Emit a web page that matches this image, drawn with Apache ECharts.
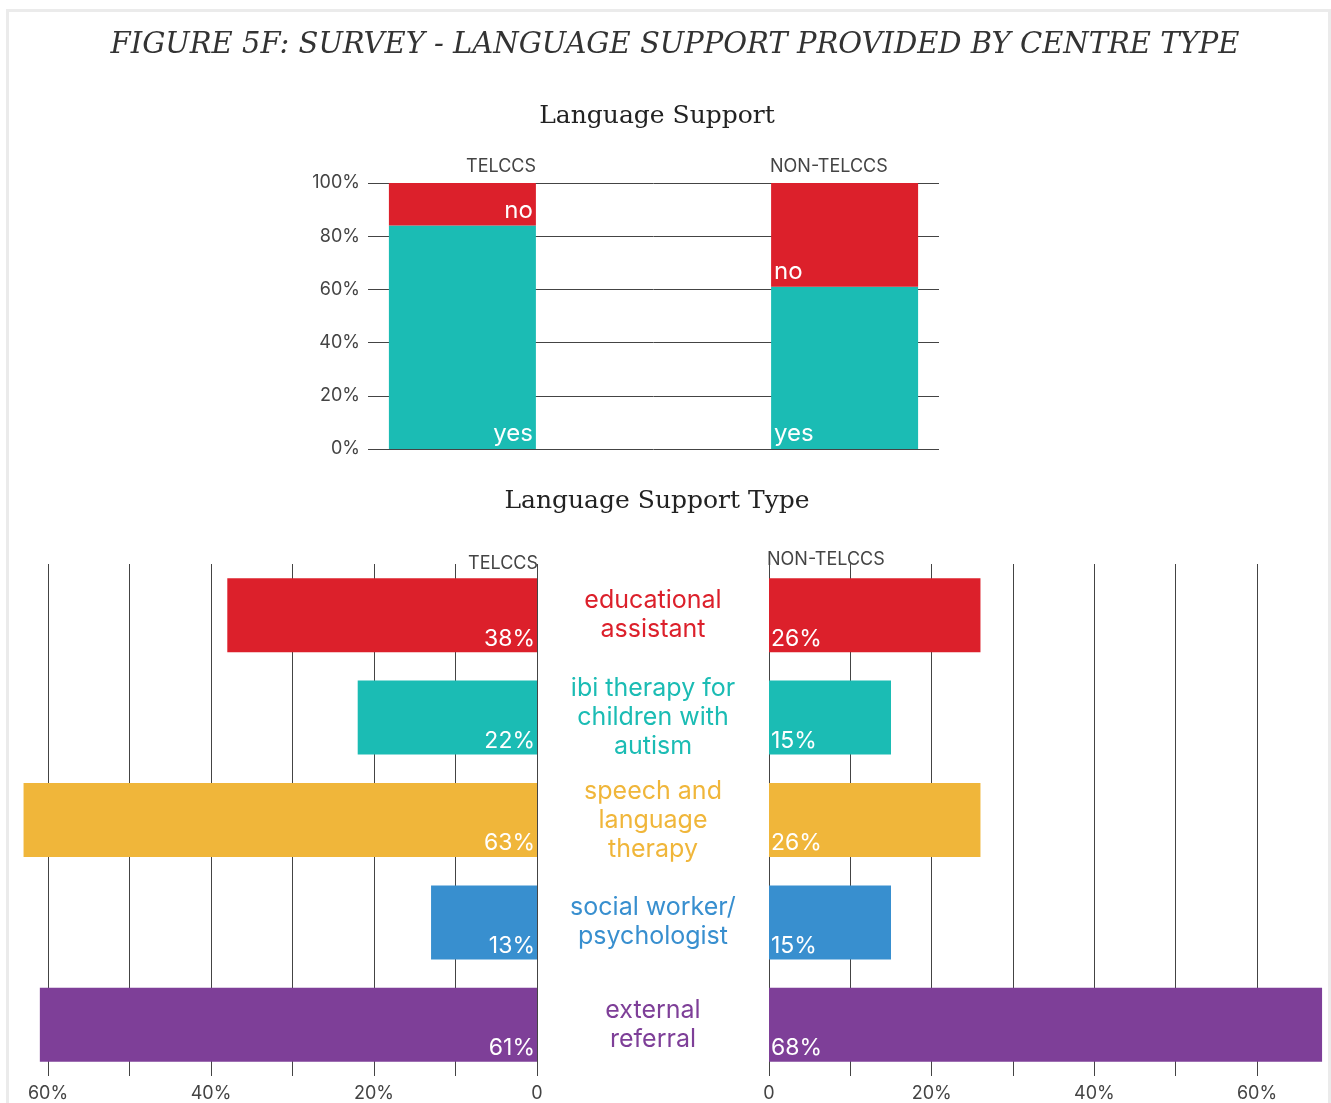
<html>
  <head>
    <meta http-equiv="Content-Type" content="text/html; charset=utf-8" />
    <title>Language Support</title>
    <style>
      body { margin: 0; background: white; }
      .frame
      {
        position: absolute;
        left: 6px;
        top: 9px;
        width: 1319px;
        height: 1200px;
        border: 3px solid #ebebeb;
      }
      .chart
      {
        position: absolute;
        left: 0;
        top: 0;
        width: 1331px;
        height: 1103px;
      }
    </style>
  </head>
  <body>
    <div class="frame"></div>
    <div class="chart" id="chart"></div>
    <script src="https://cdn.jsdelivr.net/npm/echarts@6/dist/echarts.min.js"></script>
    <script>
      // 上图：是否提供语言支持
      var centreTypes = ['TELCCS', 'NON-TELCCS'];
      var supportYes = [84, 61];
      var supportNo = [16, 39];

      // 下图：语言支持类型
      var supportTypes = ['educational\nassistant', 'ibi therapy for\nchildren with\nautism', 'speech and\nlanguage\ntherapy', 'social worker/\npsychologist', 'external\nreferral'];
      var telccsType = [38, 22, 63, 13, 61];
      var nonTelccsType = [26, 15, 26, 15, 68];

      var RED = '#dc202b', TEAL = '#1bbcb4';
      var typeColors = ['#dc202b', '#1bbcb4', '#f0b63a', '#388fcf', '#7e3f98'];
      var sans = 'Inter';
      var serif = 'DejaVu Serif';
      var gridColor = '#444';

      var myChart = echarts.init(document.getElementById('chart'));

      function pctLabel(v)
      {
        if (v === 0) return '0';
        return v % 20 === 0 ? v + '%' : '';
      }

      function stackSeries(idx, stackName, pos)
      {
        var lab = {show: true, position: pos, distance: 3, color: '#fff', fontFamily: sans, fontSize: 24};
        return [
          {type: 'bar', stack: stackName, xAxisIndex: 0, yAxisIndex: 0, data: [supportYes[idx]], barWidth: 147, barGap: '160%',
           itemStyle: {color: TEAL}, label: Object.assign({formatter: 'yes'}, lab)},
          {type: 'bar', stack: stackName, xAxisIndex: 0, yAxisIndex: 0, data: [supportNo[idx]], barWidth: 147, barGap: '160%',
           itemStyle: {color: RED}, label: Object.assign({formatter: 'no'}, lab)}
        ];
      }

      function typeSeries(data, axis, pos)
      {
        return {
          type: 'bar', xAxisIndex: axis, yAxisIndex: axis, data: data, barWidth: 74, clip: false,
          itemStyle: {color: function(p) { return typeColors[p.dataIndex]; }},
          label: {show: true, position: pos, distance: 2, formatter: '{c}%', color: '#fff', fontFamily: sans, fontSize: 23}
        };
      }

      var headStyle = {fontFamily: sans, fontSize: 18, fontWeight: 'normal', color: '#444'};
      var subStyle = {fontFamily: serif, fontSize: 25, fontWeight: 'normal', color: '#222'};
      var tickStyle = {fontFamily: sans, fontSize: 18, color: '#444'};

      var option =
      {
        animation: false,
        title: [
          {text: 'FIGURE 5F: SURVEY - LANGUAGE SUPPORT PROVIDED BY CENTRE TYPE', left: 670, textAlign: 'center', top: 26,
           textStyle: {fontFamily: serif, fontStyle: 'italic', fontWeight: 'normal', fontSize: 29, color: '#333'}},
          {text: 'Language Support', left: 652, textAlign: 'center', top: 99, textStyle: subStyle},
          {text: 'Language Support Type', left: 652, textAlign: 'center', top: 484, textStyle: subStyle},
          {text: centreTypes[0], right: 795, top: 158, padding: 0, textStyle: headStyle},
          {text: centreTypes[1], left: 770, top: 158, padding: 0, textStyle: headStyle},
          {text: centreTypes[0], right: 793, top: 555, padding: 0, textStyle: headStyle},
          {text: centreTypes[1], left: 767, top: 551, padding: 0, textStyle: headStyle}
        ],
        grid: [
          {left: 368, top: 183, width: 571, height: 266},
          {left: 48, top: 564, width: 489, height: 512},
          {left: 769, top: 564, width: 488, height: 512}
        ],
        xAxis: [
          {gridIndex: 0, type: 'category', data: [''], axisLine: {show: false}, axisTick: {show: false}, axisLabel: {show: false}},
          {gridIndex: 1, type: 'value', min: 0, max: 60, interval: 10, inverse: true,
           axisLine: {show: false}, axisTick: {show: false},
           axisLabel: Object.assign({formatter: pctLabel, margin: 9}, tickStyle),
           splitLine: {show: true, lineStyle: {color: gridColor, width: 1}}},
          {gridIndex: 2, type: 'value', min: 0, max: 60, interval: 10,
           axisLine: {show: false}, axisTick: {show: false},
           axisLabel: Object.assign({formatter: pctLabel, margin: 9}, tickStyle),
           splitLine: {show: true, lineStyle: {color: gridColor, width: 1}}}
        ],
        yAxis: [
          {gridIndex: 0, type: 'value', min: 0, max: 100, interval: 20,
           axisLine: {show: false}, axisTick: {show: false},
           axisLabel: Object.assign({formatter: '{value}%', margin: 8}, tickStyle),
           splitLine: {show: true, lineStyle: {color: gridColor, width: 1}}},
          {gridIndex: 1, type: 'category', data: supportTypes, inverse: true, position: 'right',
           axisLine: {show: false}, axisTick: {show: false}, axisLabel: {show: false}},
          {gridIndex: 2, type: 'category', data: supportTypes, inverse: true, position: 'left',
           axisLine: {show: false}, axisTick: {show: false},
           axisLabel: {align: 'center', margin: 116, fontFamily: sans, fontSize: 25, lineHeight: 29,
                       color: function(v, i) { return typeColors[i]; }}}
        ],
        series: stackSeries(0, 't', 'insideBottomRight')
          .concat(stackSeries(1, 'n', 'insideBottomLeft'))
          .concat([typeSeries(telccsType, 1, 'insideBottomRight'), typeSeries(nonTelccsType, 2, 'insideBottomLeft')])
      };

      myChart.setOption(option);
    </script>
  </body>
</html>
